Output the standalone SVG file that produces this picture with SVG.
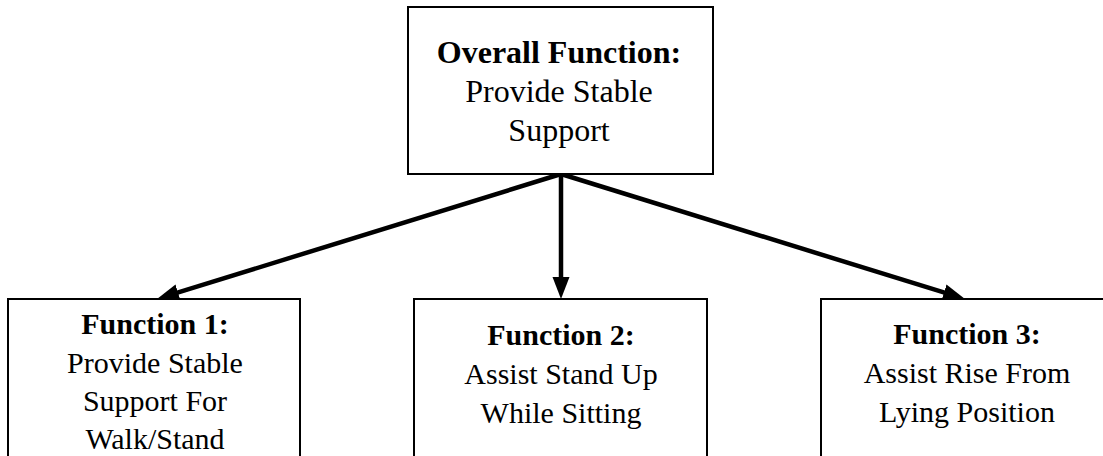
<svg xmlns="http://www.w3.org/2000/svg" width="1103" height="456" viewBox="0 0 1103 456">
  <style>
    .box { fill: #ffffff; stroke: #000000; stroke-width: 2; }
    text { fill: #000000; text-anchor: middle; font-family: "Liberation Serif", "Times New Roman", serif; }
    .top { font-size: 32px; }
    .sub { font-size: 30px; }
    .b { font-weight: bold; }
    .edge { stroke: #000000; stroke-width: 4.5; fill: none; marker-end: url(#head); }
  </style>
  <defs>
    <!-- filled arrowhead; its base sits 4px behind the line end so the line tip stays hidden -->
    <marker id="head" markerUnits="userSpaceOnUse" markerWidth="24" markerHeight="18" refX="4" refY="8.5" orient="auto">
      <path d="M0,0 L22,8.5 L0,17 Z" fill="#000000"/>
    </marker>
  </defs>
  <rect width="1103" height="456" fill="#ffffff"/>

  <g id="connectors">
    <line class="edge" x1="561" y1="174" x2="174.2" y2="293.7"/>
    <line class="edge" x1="561" y1="174" x2="561" y2="281"/>
    <line class="edge" x1="561" y1="174" x2="947.8" y2="293.7"/>
  </g>

  <g id="overall">
    <rect class="box" x="408" y="7" width="305" height="167"/>
    <text class="top b" x="559" y="63">Overall Function:</text>
    <text class="top" x="559" y="102">Provide Stable</text>
    <text class="top" x="559" y="141">Support</text>
  </g>

  <g id="function1">
    <rect class="box" x="8" y="299" width="292" height="180"/>
    <text class="sub b" x="155" y="334">Function 1:</text>
    <text class="sub" x="155" y="373">Provide Stable</text>
    <text class="sub" x="155" y="411">Support For</text>
    <text class="sub" x="155" y="449">Walk/Stand</text>
  </g>

  <g id="function2">
    <rect class="box" x="414" y="299" width="293" height="180"/>
    <text class="sub b" x="561" y="345">Function 2:</text>
    <text class="sub" x="561" y="384">Assist Stand Up</text>
    <text class="sub" x="561" y="423">While Sitting</text>
  </g>

  <g id="function3">
    <rect class="box" x="821" y="299" width="293" height="180"/>
    <text class="sub b" x="967" y="344">Function 3:</text>
    <text class="sub" x="967" y="383">Assist Rise From</text>
    <text class="sub" x="967" y="422">Lying Position</text>
  </g>
</svg>
